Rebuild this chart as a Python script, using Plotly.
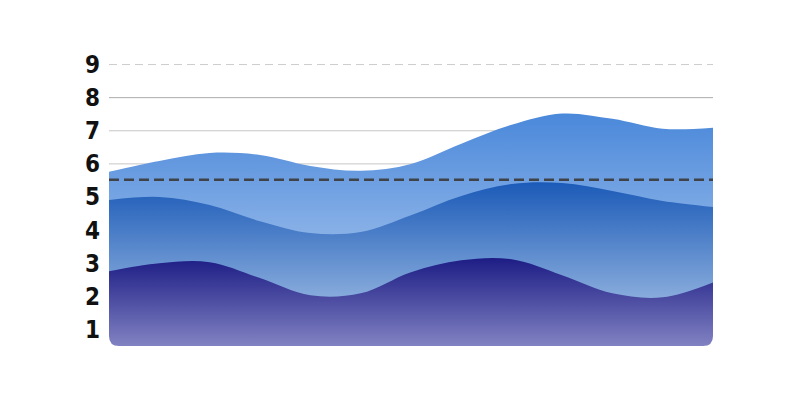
import plotly.graph_objects as go

# ---- data ----
x_idx = list(range(13))
series_top = [5.76, 6.09, 6.33, 6.27, 5.94, 5.79, 6.00, 6.61, 7.18, 7.52, 7.36, 7.06, 7.09]
series_mid = [4.91, 5.00, 4.76, 4.27, 3.91, 3.94, 4.45, 5.03, 5.39, 5.42, 5.18, 4.88, 4.70]
series_bot = [2.76, 3.00, 3.03, 2.55, 2.03, 2.09, 2.73, 3.09, 3.12, 2.64, 2.09, 1.97, 2.42]
ref_value = 5.52
y_ticks = [1, 2, 3, 4, 5, 6, 7, 8, 9]
y_min, y_max = 0.5, 9.5

fig = go.Figure()

def add_area(vals, c_low, c_high):
    fig.add_trace(go.Scatter(
        x=x_idx, y=vals, mode="lines",
        line=dict(width=0, shape="spline", smoothing=1.0),
        fill="tozeroy",
        fillgradient=dict(type="vertical", start=y_min, stop=max(vals),
                          colorscale=[[0, c_low], [1, c_high]]),
        hoverinfo="skip", showlegend=False,
    ))

add_area(series_top, "#c2d6f3", "#4a88da")
add_area(series_mid, "#b5cdeb", "#1c5bb8")
add_area(series_bot, "#8182c2", "#1e1e86")

shapes = []
# gridlines
for v, col, dash in [(9, "#cccccc", "8px,5px"), (8, "#aaaaaa", "solid"),
                     (7, "#c6c6c6", "solid"), (6, "#c6c6c6", "solid")]:
    shapes.append(dict(type="line", xref="paper", yref="y", x0=0, x1=1, y0=v, y1=v,
                       line=dict(color=col, width=1, dash=dash), layer="below"))
# reference line
shapes.append(dict(type="line", xref="paper", yref="y", x0=0, x1=1,
                   y0=ref_value, y1=ref_value,
                   line=dict(color="#3f4247", width=2.5, dash="10px,5px"), layer="above"))
# rounded bottom corners (white masks)
r = 10
shapes.append(dict(type="path", xref="paper", yref="paper", xsizemode="pixel", ysizemode="pixel",
                   xanchor=0, yanchor=0,
                   path=f"M -1,-1 L {r},-1 L {r},0 Q 0,0 0,{r} L -1,{r} Z",
                   fillcolor="white", line=dict(width=0), layer="above"))
shapes.append(dict(type="path", xref="paper", yref="paper", xsizemode="pixel", ysizemode="pixel",
                   xanchor=1, yanchor=0,
                   path=f"M 1,-1 L -{r},-1 L -{r},0 Q 0,0 0,{r} L 1,{r} Z",
                   fillcolor="white", line=dict(width=0), layer="above"))

fig.update_layout(
    width=800, height=400,
    margin=dict(l=101, r=95, t=40, b=62),
    paper_bgcolor="white", plot_bgcolor="white",
    shapes=shapes,
    xaxis=dict(range=[0, 12], visible=False, showgrid=False, zeroline=False),
    yaxis=dict(range=[y_min, y_max], tickvals=y_ticks, ticktext=[str(t) for t in y_ticks],
               showgrid=False, zeroline=False, showline=False,
               tickfont=dict(family="DejaVu Sans Condensed", size=24, color="#111111",
                             weight="bold"),
               ticklabelstandoff=8),
)

fig.write_html("out.html")
